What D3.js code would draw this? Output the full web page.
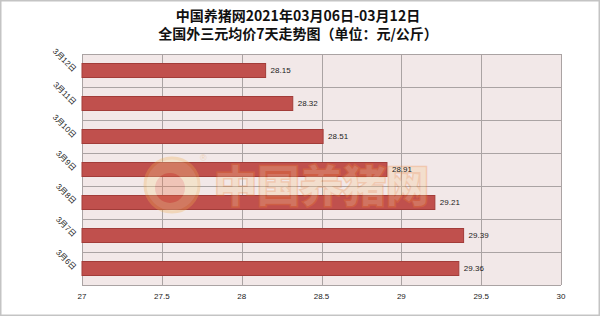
<!DOCTYPE html>
<html>
<head>
<meta charset="utf-8">
<script src="https://cdn.jsdelivr.net/npm/d3@7"></script>
<style>
  body { margin: 0; background: #fff; }
  svg { display: block; }
  text { font-family: "Liberation Sans", "Noto Sans CJK SC", sans-serif; }
</style>
</head>
<body>
<div id="chart"></div>
<script>
// data, top row first
const days = ["3月12日", "3月11日", "3月10日", "3月9日", "3月8日", "3月7日", "3月6日"];
const prices = [28.15, 28.32, 28.51, 28.91, 29.21, 29.39, 29.36];
const xTicks = [27, 27.5, 28, 28.5, 29, 29.5, 30];
const titleLines = ["中国养猪网2021年03月06日-03月12日", "全国外三元均价7天走势图（单位：元/公斤）"];

const W = 600, H = 316;
const plot = { left: 82, right: 561, top: 54, bottom: 285 };

const svg = d3.select("#chart").append("svg")
  .attr("width", W).attr("height", H);

// outer frame
svg.append("rect")
  .attr("x", 0.75).attr("y", 0.75)
  .attr("width", W - 1.5).attr("height", H - 1.5)
  .attr("fill", "#fff").attr("stroke", "#c4c4c4").attr("stroke-width", 1.5);

// title
svg.selectAll(".title").data(titleLines).enter().append("text")
  .attr("class", "title")
  .attr("x", 298)
  .attr("y", (d, i) => 21 + i * 18)
  .attr("text-anchor", "middle")
  .style("font-family", "'Noto Sans CJK SC', sans-serif")
  .style("font-weight", "bold")
  .style("font-size", "14px")
  .attr("fill", "#111")
  .text(d => d);

const x = d3.scaleLinear().domain([27, 30]).range([plot.left, plot.right]);
const y = d3.scaleBand().domain(days).range([plot.top, plot.bottom]).paddingInner(0).paddingOuter(0);

// plot background
svg.append("rect")
  .attr("x", plot.left).attr("y", plot.top)
  .attr("width", plot.right - plot.left).attr("height", plot.bottom - plot.top)
  .attr("fill", "#f2e8e8");

// grid
const grid = svg.append("g").attr("stroke", "#aaa3a3").attr("stroke-width", 1);
grid.selectAll(".v").data(xTicks).enter().append("line")
  .attr("x1", d => Math.round(x(d)) + 0.5).attr("x2", d => Math.round(x(d)) + 0.5)
  .attr("y1", plot.top).attr("y2", plot.bottom);
const hLines = days.map(d => y(d)).concat([plot.bottom]);
grid.selectAll(".h").data(hLines).enter().append("line")
  .attr("x1", plot.left).attr("x2", plot.right)
  .attr("y1", d => Math.round(d) + 0.5).attr("y2", d => Math.round(d) + 0.5);

// bars
const barH = 14;
svg.selectAll(".bar").data(prices).enter().append("rect")
  .attr("class", "bar")
  .attr("x", plot.left)
  .attr("y", (d, i) => y(days[i]) + y.bandwidth() / 2 - barH / 2)
  .attr("width", d => x(d) - plot.left)
  .attr("height", barH)
  .attr("fill", "#c0504d")
  .attr("stroke", "#a23c39")
  .attr("stroke-width", 1);

// watermark, drawn over the bars like the site logo
const wm = svg.append("g").attr("opacity", 0.3);
wm.append("circle").attr("cx", 172).attr("cy", 185).attr("r", 27)
  .attr("fill", "#f8d890").attr("stroke", "#f0b050").attr("stroke-width", 3);
wm.append("circle").attr("cx", 170).attr("cy", 188).attr("r", 15)
  .attr("fill", "#e9744a");
wm.append("text").attr("x", 214).attr("y", 202)
  .style("font-family", "'Noto Sans CJK SC', sans-serif")
  .style("font-weight", "bold").style("font-size", "43px")
  .attr("fill", "#f8c890").attr("stroke", "#ee8030").attr("stroke-width", 3)
  .attr("paint-order", "stroke")
  .text("中国养猪网");
wm.append("text").attr("x", 200).attr("y", 161)
  .style("font-size", "9px").attr("fill", "#e0a050").text("®");

// value labels
svg.selectAll(".val").data(prices).enter().append("text")
  .attr("x", d => x(d) + 5)
  .attr("y", (d, i) => y(days[i]) + y.bandwidth() / 2)
  .attr("dy", "0.35em")
  .style("font-size", "8px")
  .attr("fill", "#222")
  .text(d => d.toFixed(2));

// x axis labels
svg.selectAll(".xt").data(xTicks).enter().append("text")
  .attr("x", d => x(d))
  .attr("y", 299)
  .attr("text-anchor", "middle")
  .style("font-size", "8px")
  .attr("fill", "#222")
  .text(d => d);

// y axis labels, rotated
svg.selectAll(".yt").data(days).enter().append("text")
  .attr("transform", d => `translate(73,${y(d) + y.bandwidth() / 2 + 2}) rotate(45)`)
  .attr("text-anchor", "end")
  .style("font-size", "8px")
  .attr("fill", "#222")
  .text(d => d);
</script>
</body>
</html>
